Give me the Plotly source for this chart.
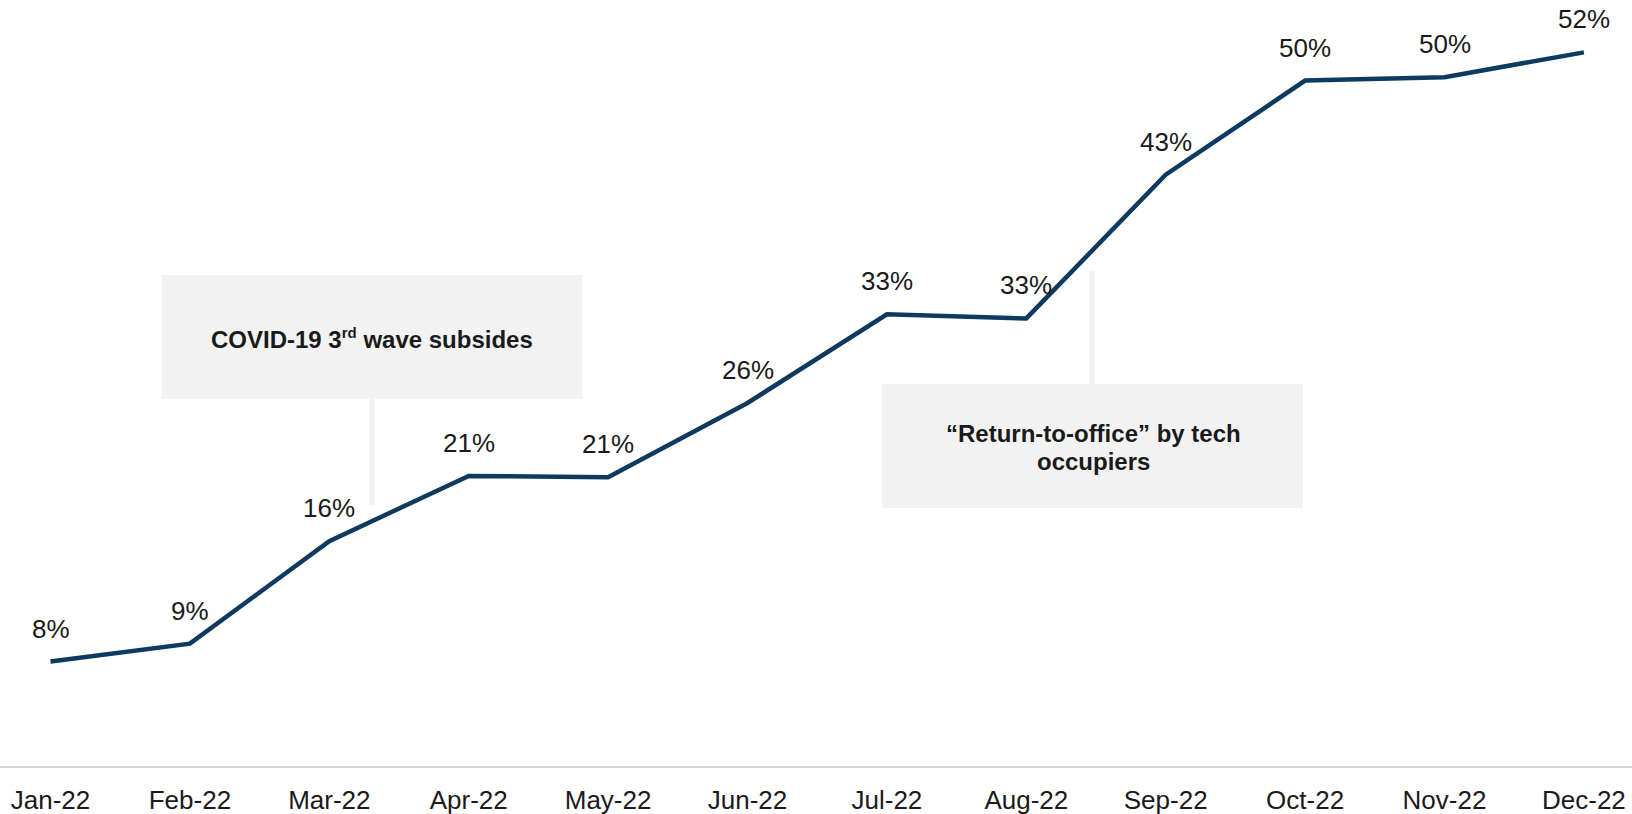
import plotly.graph_objects as go

months = ["Jan-22", "Feb-22", "Mar-22", "Apr-22", "May-22", "Jun-22",
          "Jul-22", "Aug-22", "Sep-22", "Oct-22", "Nov-22", "Dec-22"]
share = [7.6, 8.9, 16.35, 21.1, 21.0, 26.4, 32.85, 32.55, 43.0, 49.85, 50.1, 51.9]
share_labels = ["8%", "9%", "16%", "21%", "21%", "26%", "33%", "33%", "43%", "50%", "50%", "52%"]

W, H = 1632, 814
MB = 48
PLOT_H = H - MB
PX_PER_PCT = 13.75
LINE_COLOR = "#0E3A5F"
TEXT_COLOR = "#1a1a1a"
BOX_COLOR = "#f2f2f2"
FONT = "Liberation Sans, Arial, sans-serif"

xs = list(range(len(months)))

fig = go.Figure()
fig.add_trace(go.Scatter(
    x=xs, y=share, mode="lines",
    line=dict(color=LINE_COLOR, width=4.5),
    cliponaxis=False, hoverinfo="skip", showlegend=False,
))

annotations = []
for i, (v, t) in enumerate(zip(share, share_labels)):
    annotations.append(dict(
        x=i, y=v, xref="x", yref="y", text=t, showarrow=False,
        yanchor="middle", xanchor="center", yshift=33,
        font=dict(family=FONT, size=26, color=TEXT_COLOR),
    ))

def px_x(px):
    return px / W

def px_y(py):
    return (PLOT_H - py) / PLOT_H

shapes = []
# Callout 1
shapes.append(dict(type="rect", xref="paper", yref="paper",
                   x0=px_x(162), x1=px_x(582), y0=px_y(399), y1=px_y(275),
                   fillcolor=BOX_COLOR, line=dict(width=0), layer="below"))
shapes.append(dict(type="line", xref="paper", yref="paper",
                   x0=px_x(372), x1=px_x(372), y0=px_y(399), y1=px_y(505),
                   line=dict(color=BOX_COLOR, width=5), layer="below"))
annotations.append(dict(
    x=px_x(372), y=px_y(338), xref="paper", yref="paper", showarrow=False,
    text="<b>COVID-19 3<sup><span style='font-size:15px'>rd</span></sup> wave subsides</b>",
    xanchor="center", yanchor="middle",
    font=dict(family=FONT, size=24, color=TEXT_COLOR),
))
# Callout 2
shapes.append(dict(type="rect", xref="paper", yref="paper",
                   x0=px_x(882), x1=px_x(1303), y0=px_y(508), y1=px_y(384),
                   fillcolor=BOX_COLOR, line=dict(width=0), layer="below"))
shapes.append(dict(type="line", xref="paper", yref="paper",
                   x0=px_x(1092), x1=px_x(1092), y0=px_y(384), y1=px_y(271),
                   line=dict(color=BOX_COLOR, width=5), layer="below"))
annotations.append(dict(
    x=px_x(1093), y=px_y(433), xref="paper", yref="paper", showarrow=False,
    text="<b>“Return-to-office” by tech</b>",
    xanchor="center", yanchor="middle",
    font=dict(family=FONT, size=24, color=TEXT_COLOR),
))
annotations.append(dict(
    x=px_x(1093), y=px_y(461.5), xref="paper", yref="paper", showarrow=False,
    text="<b>occupiers</b>",
    xanchor="center", yanchor="middle",
    font=dict(family=FONT, size=24, color=TEXT_COLOR),
))

x_step = 139.4
x0 = -50.5 / x_step
x1 = x0 + W / x_step

fig.update_layout(
    width=W, height=H,
    margin=dict(l=0, r=0, t=0, b=MB, pad=0),
    paper_bgcolor="white", plot_bgcolor="white",
    xaxis=dict(
        tickmode="array", tickvals=xs, ticktext=months,
        range=[x0, x1], showgrid=False, zeroline=False,
        showline=True, linecolor="#d4d4d4", linewidth=2,
        ticks="outside", ticklen=10, tickcolor="rgba(0,0,0,0)",
        tickfont=dict(family=FONT, size=26, color=TEXT_COLOR),
    ),
    yaxis=dict(
        range=[0, PLOT_H / PX_PER_PCT], visible=False,
        showgrid=False, zeroline=False,
    ),
    shapes=shapes, annotations=annotations,
)

fig.write_html(
    "out.html",
    config={"displayModeBar": False},
    post_script="document.body.style.margin='0';document.body.style.overflow='hidden';",
)
